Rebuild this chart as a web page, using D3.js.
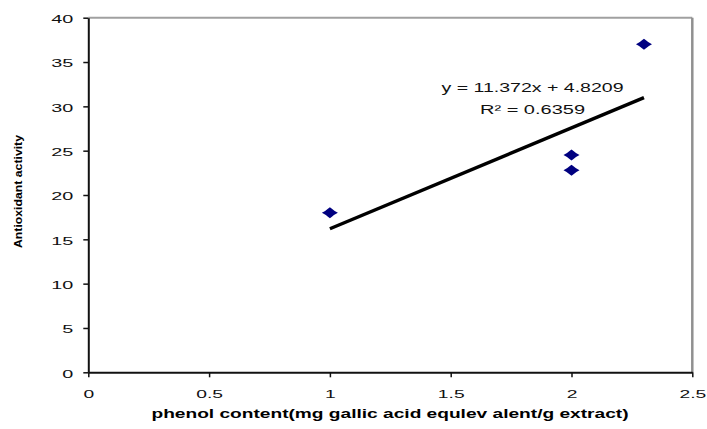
<!DOCTYPE html>
<html>
<head>
<meta charset="utf-8">
<script src="https://cdn.jsdelivr.net/npm/d3@7"></script>
<style>
  body { margin: 0; background: #fff; }
  text { font-family: Arial, "Liberation Sans", sans-serif; }
</style>
</head>
<body>
<svg width="707" height="429"></svg>
<script>
// data
let phenol = [1, 2, 2, 2.3]
let activity = [18, 24.5, 22.8, 37]
let xTicks = [0, 0.5, 1, 1.5, 2, 2.5]
let yTicks = [0, 5, 10, 15, 20, 25, 30, 35, 40]
let slope = 11.372
let intercept = 4.8209
let eqText = 'y = 11.372x + 4.8209'
let r2Text = 'R² = 0.6359'
let xTitle = 'phenol content(mg gallic acid equlev alent/g extract)'
let yTitle = 'Antioxidant activity'

let svg = d3.select('svg')
let x = d3.scaleLinear().domain([0, 2.5]).range([88.3, 692.3])
let y = d3.scaleLinear().domain([0, 40]).range([372.3, 17.7])

// stretch text horizontally like the original rendering
function widen(sel, k) {
  sel.each(function () {
    let w = this.getComputedTextLength()
    d3.select(this).attr('textLength', w * k).attr('lengthAdjust', 'spacingAndGlyphs')
  })
}

// top and right frame (grey)
svg.append('line')
  .attr('x1', x(0)).attr('x2', x(2.5)).attr('y1', y(40)).attr('y2', y(40))
  .attr('stroke', '#a0a0a0').attr('stroke-width', 2)
svg.append('line')
  .attr('x1', x(2.5)).attr('x2', x(2.5)).attr('y1', y(40)).attr('y2', y(0))
  .attr('stroke', '#909090').attr('stroke-width', 2.5)

// axes
let gx = svg.append('g')
  .attr('transform', 'translate(0,' + y(0) + ')')
  .call(d3.axisBottom(x).tickValues(xTicks).tickSize(5).tickPadding(13).tickSizeOuter(0)
    .tickFormat(d3.format('')))
let gy = svg.append('g')
  .attr('transform', 'translate(' + x(0) + ',0)')
  .call(d3.axisLeft(y).tickValues(yTicks).tickSize(5).tickPadding(10).tickSizeOuter(0))
for (let g of [gx, gy]) {
  g.select('.domain').attr('stroke', '#111').attr('stroke-width', 2)
  g.selectAll('.tick line').attr('stroke', '#111').attr('stroke-width', 1.5)
  g.selectAll('.tick text').attr('font-size', 11).attr('font-family', 'Arial, "Liberation Sans", sans-serif')
    .attr('fill', '#111')
}
gy.selectAll('.tick text').attr('dy', '0.45em')
widen(gx.selectAll('.tick text'), 1.75)
widen(gy.selectAll('.tick text'), 1.8)

// trend line
let x0 = d3.min(phenol), x1 = d3.max(phenol)
svg.append('line')
  .attr('x1', x(x0)).attr('y1', y(slope * x0 + intercept))
  .attr('x2', x(x1)).attr('y2', y(slope * x1 + intercept))
  .attr('stroke', '#000').attr('stroke-width', 3.5)

// points (flattened diamonds)
let pts = phenol.map((d, i) => [d, activity[i]])
svg.append('g')
  .selectAll('path')
  .data(pts)
  .enter()
  .append('path')
  .attr('transform', d => 'translate(' + x(d[0]) + ',' + y(d[1]) + ')')
  .attr('d', 'M-8,0 Q-4,-2 -2,-4 L0,-5.5 L2,-4 Q4,-2 8,0 Q4,2 2,4 L0,5.5 L-2,4 Q-4,2 -8,0Z')
  .attr('fill', '#000080')

// equation
let eq = svg.append('text')
  .attr('x', 532.5).attr('y', 91.7)
  .attr('text-anchor', 'middle')
  .attr('font-size', 12)
  .attr('fill', '#111')
  .text(eqText)
let r2 = svg.append('text')
  .attr('x', 532.5).attr('y', 114)
  .attr('text-anchor', 'middle')
  .attr('font-size', 12)
  .attr('fill', '#111')
  .text(r2Text)
eq.attr('textLength', 182).attr('lengthAdjust', 'spacingAndGlyphs')
r2.attr('textLength', 105).attr('lengthAdjust', 'spacingAndGlyphs')

// axis titles
svg.append('text')
  .attr('x', 390).attr('y', 418)
  .attr('text-anchor', 'middle')
  .attr('font-size', 12)
  .attr('font-weight', 'bold')
  .attr('fill', '#000')
  .attr('textLength', 477).attr('lengthAdjust', 'spacingAndGlyphs')
  .text(xTitle)
svg.append('text')
  .attr('transform', 'translate(21.5,191.5) rotate(-90)')
  .attr('text-anchor', 'middle')
  .attr('font-size', 11)
  .attr('font-weight', 'bold')
  .attr('fill', '#000')
  .attr('textLength', 113).attr('lengthAdjust', 'spacingAndGlyphs')
  .text(yTitle)
</script>
</body>
</html>
